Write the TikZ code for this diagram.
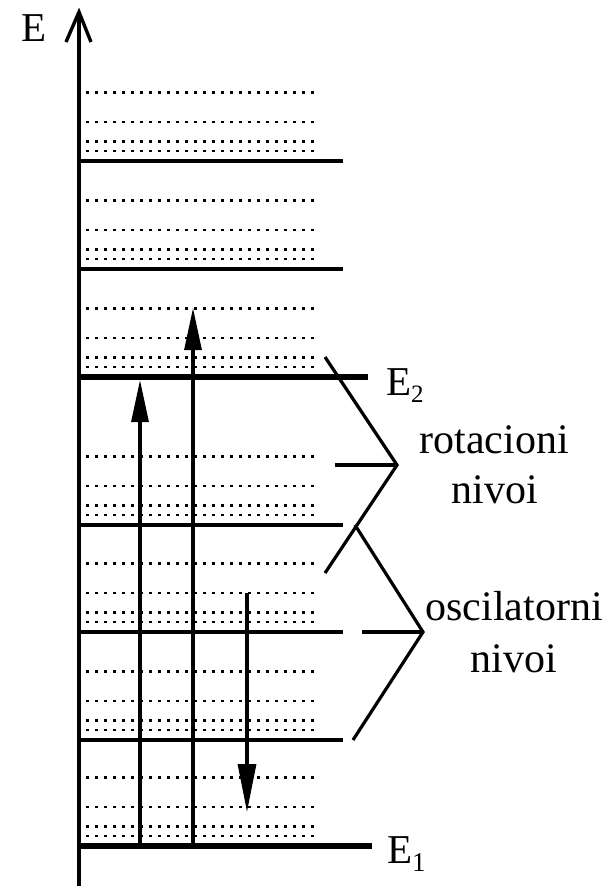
\documentclass[tikz,border=0pt]{standalone}
\usepackage{fontspec}
\setmainfont{Liberation Serif}
\usetikzlibrary{arrows.meta}
\begin{document}
\begin{tikzpicture}[x=1pt,y=-1pt,
  axisline/.style={line width=3.4pt},
  levelline/.style={line width=4.6pt},
  mainlevel/.style={line width=5.8pt},
  rotdot/.style={line width=2.8pt,dash pattern=on 2.8pt off 6.2pt},
  shaft/.style={line width=3.1pt},
  uparrow/.style={shaft,-{Triangle[length=42pt,width=17pt]}},
  downarrow/.style={shaft,-{Triangle[length=48pt,width=18pt]}},
  brk/.style={line width=3.2pt},
  lbl/.style={inner sep=0pt,font=\fontsize{42}{50}\selectfont},
  elbl/.style={inner sep=0pt,anchor=base west,font=\fontsize{41}{48}\selectfont}]
\useasboundingbox (0,0) rectangle (609,886);
\fill[white] (0,0) rectangle (609,886);
% rotational (dotted) levels
\foreach \y in {161,269,377,525,632,740,846}{
  \foreach \o in {10,19.5,39,68.5}{
    \draw[rotdot] (86,\y-\o) -- (316,\y-\o);
  }
}
% vibrational levels
\foreach \y in {161,269,525,632,740}{
  \draw[levelline] (79,\y) -- (343,\y);
}
\coordinate (e2l) at (79,377); \coordinate (e2r) at (368,377);
\coordinate (e1l) at (79,846); \coordinate (e1r) at (372,846);
\draw[mainlevel] (e2l) -- (e2r);
\draw[mainlevel] (e1l) -- (e1r);
% axis
\coordinate (ax0) at (79,886); \coordinate (axtop) at (79,12);
\coordinate (barbl) at (66,42); \coordinate (barbr) at (91,42);
\draw[axisline] (ax0) -- (axtop);
\draw[axisline,line join=miter] (barbl) -- (axtop) -- (barbr);
% transitions
\coordinate (a1s) at (140,846); \coordinate (a1e) at (140,380);
\coordinate (a2s) at (193,846); \coordinate (a2e) at (193,308);
\coordinate (a3s) at (247,593); \coordinate (a3e) at (247,812);
\draw[uparrow] (a1s) -- (a1e);
\draw[uparrow] (a2s) -- (a2e);
\draw[downarrow] (a3s) -- (a3e);
% brackets
\coordinate (b1t) at (325,357); \coordinate (b1a) at (397,465);
\coordinate (b1b) at (325,573); \coordinate (b1h) at (335,465);
\coordinate (b2t) at (355,525); \coordinate (b2a) at (423,632);
\coordinate (b2b) at (353,740); \coordinate (b2h) at (362,632);
\draw[brk,line join=miter] (b1t) -- (b1a) -- (b1b);
\draw[brk] (b1h) -- (b1a);
\draw[brk,line join=miter] (b2t) -- (b2a) -- (b2b);
\draw[brk] (b2h) -- (b2a);
% labels
\node[elbl] (lE) at (21,41) {E};
\node[elbl] (lE2) at (386,395) {E\raisebox{-7pt}{\fontsize{25}{25}\selectfont 2}};
\node[elbl] (lE1) at (387,863) {E\raisebox{-8pt}{\fontsize{27}{27}\selectfont 1}};
\node[lbl,anchor=base] (rot1) at (494,453) {rotacioni};
\node[lbl,anchor=base] (rot2) at (495,503) {nivoi};
\node[lbl,anchor=base] (osc1) at (514,620) {oscilatorni};
\node[lbl,anchor=base] (osc2) at (514,672) {nivoi};
\end{tikzpicture}
\end{document}
